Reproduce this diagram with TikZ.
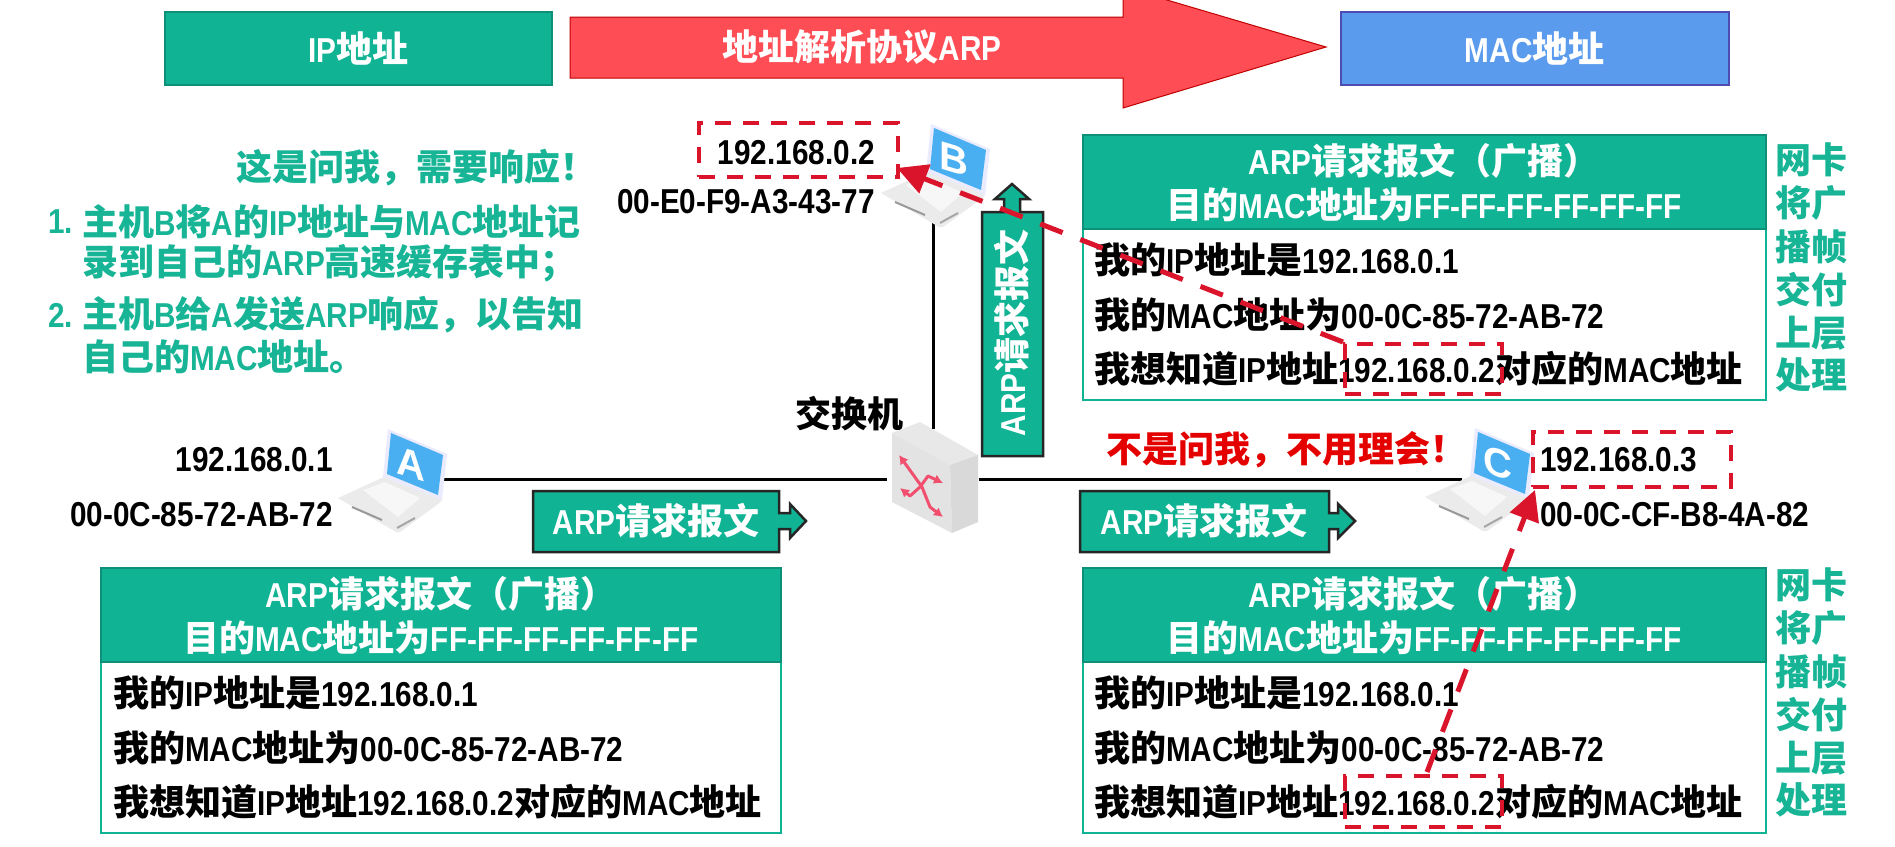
\documentclass[tikz,border=0pt]{standalone}
\usepackage{fontspec}
\usetikzlibrary{arrows.meta,calc}
\setmainfont{Liberation Sans}[Scale=0.96,FakeStretch=0.86]
\newfontfamily\cjkf{Noto Sans CJK SC}
\newfontfamily\letf{Liberation Sans}
\newXeTeXintercharclass\cjkclass
\count255="4E00
\loop\XeTeXcharclass\count255=\cjkclass\ifnum\count255<"9FFF\advance\count255 1 \repeat
\count255="FF00
\loop\XeTeXcharclass\count255=\cjkclass\ifnum\count255<"FF60\advance\count255 1 \repeat
\count255="3000
\loop\XeTeXcharclass\count255=\cjkclass\ifnum\count255<"3020\advance\count255 1 \repeat
\XeTeXinterchartoks 0 \cjkclass={\cjkf}
\XeTeXinterchartoks 4095 \cjkclass={\cjkf}
\XeTeXinterchartoks \cjkclass 0={\rmfamily}
\XeTeXinterchartoks \cjkclass 4095={\rmfamily}
\XeTeXinterchartokenstate=1
\definecolor{grn}{HTML}{10B394}
\definecolor{grnd}{HTML}{0E8F78}
\definecolor{grntx}{HTML}{17B496}
\definecolor{redb}{HTML}{FF4D55}
\definecolor{redd}{HTML}{D9142B}
\definecolor{blu}{HTML}{5B9BEE}
\definecolor{pinkx}{HTML}{F0506E}
\tikzset{
  txt/.style={inner sep=0pt,font=\fontsize{36}{40}\selectfont\bfseries},
  wht/.style={txt,text=white},
  gtx/.style={txt,text=grntx},
  hdrbox/.style={draw=grnd,line width=1.5pt,fill=grn,anchor=north west,inner sep=0pt},
  bodybox/.style={draw=grn,line width=2pt,fill=white,anchor=north west,inner sep=0pt},
  topbox/.style={line width=1.5pt,anchor=north west,inner sep=0pt,minimum width=389pt,minimum height=73pt},
  dashbox/.style={draw=redd,line width=4pt,dash pattern=on 16pt off 12pt,anchor=north west,inner sep=0pt},
  dasharr/.style={draw=redd,line width=5pt,dash pattern=on 24pt off 19pt},
  redtip/.style={-{Triangle[length=30pt,width=30pt,color=redd]}},
  link/.style={draw=black,line width=3pt},
  blockarr/.style={draw=black!85,line width=2.5pt,fill=grn},
  anchorbox/.style={inner sep=0pt,outer sep=0pt},
}
\newcommand{\laptop}[4]{%
  \begin{scope}[shift={(#1,#2)}]
    \fill[white!92!blue] (-2,-3)--(57,22)--(52,68)--(-7,45)--cycle;
    \fill[black!8] (-6,45)--(52,68)--(48,72)--(10,100)--(6,100)--(-52,66)--cycle;
    \fill[black!3] (-27,58)--(-5,50)--(30,66)--(8,85)--cycle;
    \draw[black!40,line width=2pt] (-38,75)--(-8,88);
    \draw[black!35,line width=2pt] (7,96)--(25,86);
    \fill[blu!80!cyan] (1,1)--(53,23)--(48,63)--(-3,42)--cycle;
    \node[inner sep=0pt,text=white,yslant=-0.3,transform shape,font=\fontsize{40}{40}\selectfont\letf\bfseries] (#3) at (21,32) {#4};
  \end{scope}}
\newcommand{\packet}[3]{%
  \node[bodybox,minimum width=#3pt,minimum height=265pt] (#1body) at (#2) {};
  \node[hdrbox,minimum width=#3pt,minimum height=94pt] (#1hdr) at (#1body.north west) {};
}
\newcommand{\ptext}[3]{%
  \node[wht] (#1h1) at ($(#1hdr.center)+(0,-21)$) {ARP请求报文（广播）};
  \node[wht] (#1h2) at ($(#1hdr.center)+(0,23)$) {目的MAC地址为FF-FF-FF-FF-FF-FF};
  \node[txt,anchor=west] (#1l1) at (#3,#2+126) {我的IP地址是192.168.0.1};
  \node[txt,anchor=west] (#1l2) at (#3,#2+181) {我的MAC地址为00-0C-85-72-AB-72};
  \node[txt,anchor=west] (#1l3) at (#3,#2+235) {我想知道IP地址192.168.0.2对应的MAC地址};
}
\newcommand{\sidecol}[2]{%
  \node[gtx] (#1a) at (1811,#2) {网卡};
  \node[gtx] (#1b) at (1811,#2+43) {将广};
  \node[gtx] (#1c) at (1811,#2+87) {播帧};
  \node[gtx] (#1d) at (1811,#2+130) {交付};
  \node[gtx] (#1e) at (1811,#2+173) {上层};
  \node[gtx] (#1f) at (1811,#2+215) {处理};
}
\begin{document}
\begin{tikzpicture}[x=1pt,y=-1pt]
\useasboundingbox (0,0) rectangle (1895,846);
\fill[white] (0,0) rectangle (1895,846);
% anchors of the network
\node[anchorbox,minimum width=84pt,minimum height=2pt] (lapA) at (400,479) {};
\node[anchorbox,minimum width=92pt,minimum height=100pt] (sw) at (933,479) {};
\node[anchorbox,minimum width=76pt,minimum height=2pt] (lapC) at (1500,479) {};
\node[anchorbox,minimum width=2pt,minimum height=46pt] (lapB) at (933,200) {};
\draw[link] (lapA.east)--(sw.west);
\draw[link] (sw.east)--(lapC.west);
\draw[link] (lapB.south)--(sw.north);
% top row
\node[topbox,draw=grnd,fill=grn,minimum width=387pt] (ip) at (164,11) {};
\node[wht] (iptx) at (ip.center) {IP地址};
\draw[draw=red!75!black,line width=1pt,fill=redb] (570,17)--(1123,17)--(1123,-13)--(1326,47)--(1123,108)--(1123,78)--(570,78)--cycle;
\node[wht] (arptx) at (862,47) {地址解析协议ARP};
\node[topbox,draw=blue!40!gray,fill=blu,minimum width=388pt] (mac) at (1340,11) {};
\node[wht] (mactx) at (mac.center) {MAC地址};
% green notes
\node[gtx,anchor=east] (n0) at (597,168) {这是问我，需要响应！};
\node[gtx,anchor=west] (n1a) at (48,222) {1.};
\node[gtx,anchor=west] (n1) at (82,222) {主机B将A的IP地址与MAC地址记};
\node[gtx,anchor=west] (n1b) at (82,263) {录到自己的ARP高速缓存表中；};
\node[gtx,anchor=west] (n2a) at (48,315) {2.};
\node[gtx,anchor=west] (n2) at (82,315) {主机B给A发送ARP响应，以告知};
\node[gtx,anchor=west] (n2b) at (82,357) {自己的MAC地址。};
% addresses
\node[txt,anchor=east] (ipb) at (875,153) {192.168.0.2};
\node[txt,anchor=east] (macb) at (875,202) {00-E0-F9-A3-43-77};
\node[txt,anchor=east] (ipa) at (333,460) {192.168.0.1};
\node[txt,anchor=east] (maca) at (333,515) {00-0C-85-72-AB-72};
\node[txt,anchor=west] (ipc) at (1540,460) {192.168.0.3};
\node[txt,anchor=west] (macc) at (1540,515) {00-0C-CF-B8-4A-82};
\node[txt] (swtx) at (849,414) {交换机};
\node[txt,text=red!90!black] (nota) at (1286,450) {不是问我，不用理会！};
% laptops
\laptop{390}{432}{la}{A}
\laptop{933}{127}{lb}{B}
\laptop{1477}{431}{lc}{C}
% switch
\fill[black!9] (892,433)--(920,422)--(978,455)--(950,465)--cycle;
\fill[black!11] (892,433)--(950,465)--(952,533)--(892,502)--cycle;
\fill[black!15] (950,465)--(978,455)--(978,522)--(952,533)--cycle;
\begin{scope}[draw=pinkx,line width=3pt,arrows={Latex[length=9pt,width=10pt]-Latex[length=9pt,width=10pt]},line join=round]
\draw (899,455)--(922,487)--(930,507)--(943,517);
\draw (900,488)--(910,496)--(920,487)--(928,476)--(943,483);
\end{scope}
% packets
\packet{pt}{1082,134}{683}
\packet{pr}{1082,567}{683}
\packet{pl}{100,567}{680}
\ptext{pt}{134}{1094}
\ptext{pr}{567}{1094}
\ptext{pl}{567}{113}
\sidecol{sa}{160}
\sidecol{sb}{585}
% block arrows
\draw[blockarr] (533,491)--(779,491)--(779,513)--(790,513)--(790,504)--(806,521)--(790,538)--(790,529)--(779,529)--(779,552)--(533,552)--cycle;
\node[wht] (ba1) at (656,521) {ARP请求报文};
\draw[blockarr] (1080,491)--(1329,491)--(1329,513)--(1338,513)--(1338,504)--(1355,521)--(1338,538)--(1338,529)--(1329,529)--(1329,552)--(1080,552)--cycle;
\node[wht] (ba2) at (1204,521) {ARP请求报文};
\draw[blockarr] (982,456)--(982,212)--(1004,212)--(1004,199)--(995,199)--(1012,184)--(1029,199)--(1020,199)--(1020,212)--(1043,212)--(1043,456)--cycle;
\node[wht,rotate=90] (ba3) at (1012,333) {ARP请求报文};
% red highlight boxes
\node[dashbox,minimum width=199pt,minimum height=54pt] (db1) at (697,121) {};
\node[dashbox,minimum width=157pt,minimum height=50pt] (db2) at (1343,342) {};
\node[dashbox,minimum width=157pt,minimum height=51pt] (db3) at (1343,774) {};
\node[dashbox,minimum width=198pt,minimum height=55pt] (db4) at (1531,430) {};
% red dashed arrows
\coordinate (tip1) at (897,168);
\coordinate (tip2) at (1535,490);
\coordinate (from3) at (1427,772);
\draw[dasharr,redtip] (db2.north west)--(tip1);
\draw[dasharr,redtip] (from3)--(tip2);
\end{tikzpicture}
\end{document}
